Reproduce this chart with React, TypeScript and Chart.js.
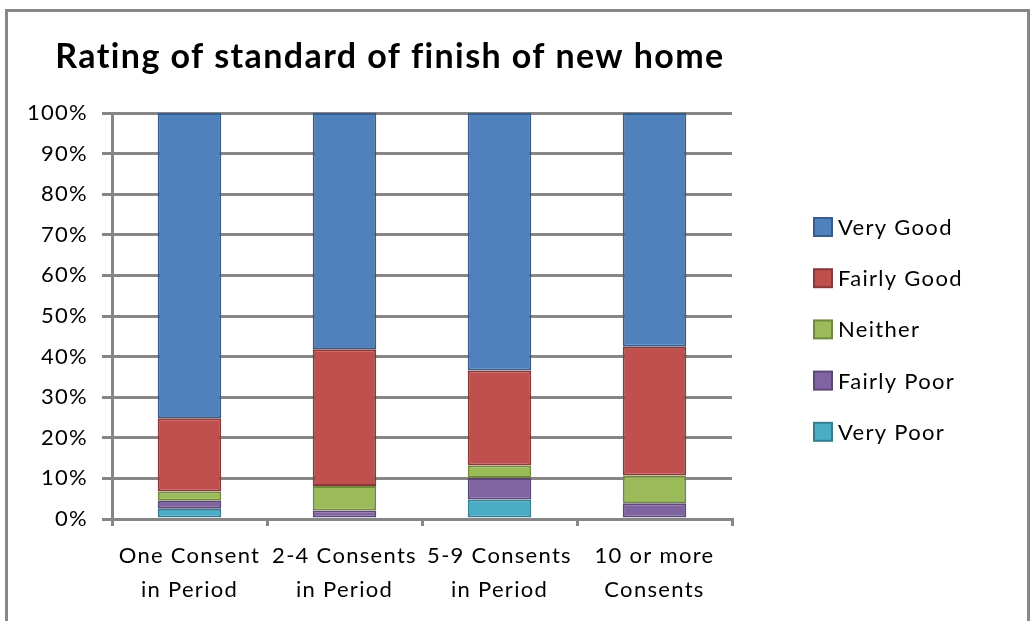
import React, { useEffect, useRef } from "react";
import { Chart, registerables } from "chart.js";

Chart.register(...registerables);

const TITLE = "Rating of standard of finish of new home";
const categories: string[][] = [
  ["One Consent", "in Period"],
  ["2-4 Consents", "in Period"],
  ["5-9 Consents", "in Period"],
  ["10 or more", "Consents"],
];
const seriesNames = ["Very Good", "Fairly Good", "Neither", "Fairly Poor", "Very Poor"];
const veryGood = [75.2, 58.2, 63.4, 57.6];
const fairlyGood = [18.0, 33.7, 23.4, 31.7];
const neither = [2.3, 6.0, 3.1, 6.8];
const fairlyPoor = [2.0, 2.1, 5.3, 3.9];
const veryPoor = [2.5, 0, 4.8, 0];
const yTicks = [0, 10, 20, 30, 40, 50, 60, 70, 80, 90, 100];

const fills = ["#4F81BD", "#C0504D", "#9BBB59", "#8064A2", "#4BACC6"];
const borders = ["#385D8A", "#8C3836", "#71893F", "#5C4776", "#357D91"];
const FONT = "Lato, 'Liberation Sans', sans-serif";
const GRID = "#868686";
const SPACING = "1.3px";

export default function App() {
  const ref = useRef<HTMLCanvasElement | null>(null);
  useEffect(() => {
    if (!ref.current) return;
    const values = [veryGood, fairlyGood, neither, fairlyPoor, veryPoor];
    const order = [4, 3, 2, 1, 0];
    const datasets = order.map((i) => ({
      label: seriesNames[i],
      data: values[i],
      backgroundColor: fills[i],
      borderColor: borders[i],
      borderWidth: 2,
      borderSkipped: false as const,
      barPercentage: 0.41,
      categoryPercentage: 1,
    }));

    const decor = {
      id: "decor",
      beforeUpdate(chart: any) {
        (chart.ctx as any).letterSpacing = SPACING;
      },
      beforeDraw(chart: any) {
        const ctx = chart.ctx;
        (ctx as any).letterSpacing = SPACING;
        ctx.save();
        ctx.fillStyle = "#ffffff";
        ctx.fillRect(0, 0, chart.width, chart.height);
        ctx.strokeStyle = "#878787";
        ctx.lineWidth = 3;
        ctx.strokeRect(6.5, 10.5, 1022, 640);
        ctx.restore();
      },
      afterDraw(chart: any) {
        const ctx = chart.ctx;
        ctx.save();
        ctx.fillStyle = "#000";
        (ctx as any).letterSpacing = "1.4px";
        ctx.font = `bold 34px ${FONT}`;
        ctx.textAlign = "center";
        ctx.textBaseline = "middle";
        ctx.fillText(TITLE, 390, 57);
        (ctx as any).letterSpacing = SPACING;
        ctx.font = `22px ${FONT}`;
        ctx.textAlign = "left";
        seriesNames.forEach((name, i) => {
          const cy = 227 + i * 51.2;
          ctx.fillStyle = fills[i];
          ctx.fillRect(814, cy - 9, 18, 18);
          ctx.strokeStyle = borders[i];
          ctx.lineWidth = 2;
          ctx.strokeRect(814, cy - 9, 18, 18);
          ctx.fillStyle = "#000";
          ctx.fillText(name, 838, cy + 1);
        });
        ctx.restore();
      },
    };

    const chart = new Chart(ref.current, {
      type: "bar",
      data: { labels: categories, datasets },
      options: {
        responsive: false,
        animation: false,
        layout: { padding: { top: 113, right: 299, left: 0, bottom: 0 } },
        plugins: { legend: { display: false }, title: { display: false }, tooltip: { enabled: false } },
        scales: {
          x: {
            stacked: true,
            afterFit: (s: any) => { s.height = 102; },
            grid: { drawOnChartArea: false, drawTicks: true, tickLength: 7, color: GRID, lineWidth: 3 },
            border: { display: true, color: GRID, width: 3 },
            ticks: { color: "#000", font: { family: FONT, size: 22, lineHeight: 1.55 }, padding: 13, maxRotation: 0, autoSkip: false },
          },
          y: {
            stacked: true,
            min: 0,
            max: 100,
            afterFit: (s: any) => { s.width = 112; },
            afterBuildTicks: (s: any) => { s.ticks = yTicks.map((v) => ({ value: v })); },
            grid: { color: GRID, lineWidth: 3, drawTicks: true, tickLength: 10 },
            border: { display: true, color: GRID, width: 3 },
            ticks: { color: "#000", font: { family: FONT, size: 22 }, padding: 14, callback: (v: any) => `${v}%` },
          },
        },
      },
      plugins: [decor],
    });
    return () => chart.destroy();
  }, []);
  return (
    <div style={{ position: "absolute", left: 0, top: 0, width: 1031, height: 621 }}>
      <canvas ref={ref} width={1031} height={621} style={{ width: 1031, height: 621, display: "block" }} />
    </div>
  );
}
